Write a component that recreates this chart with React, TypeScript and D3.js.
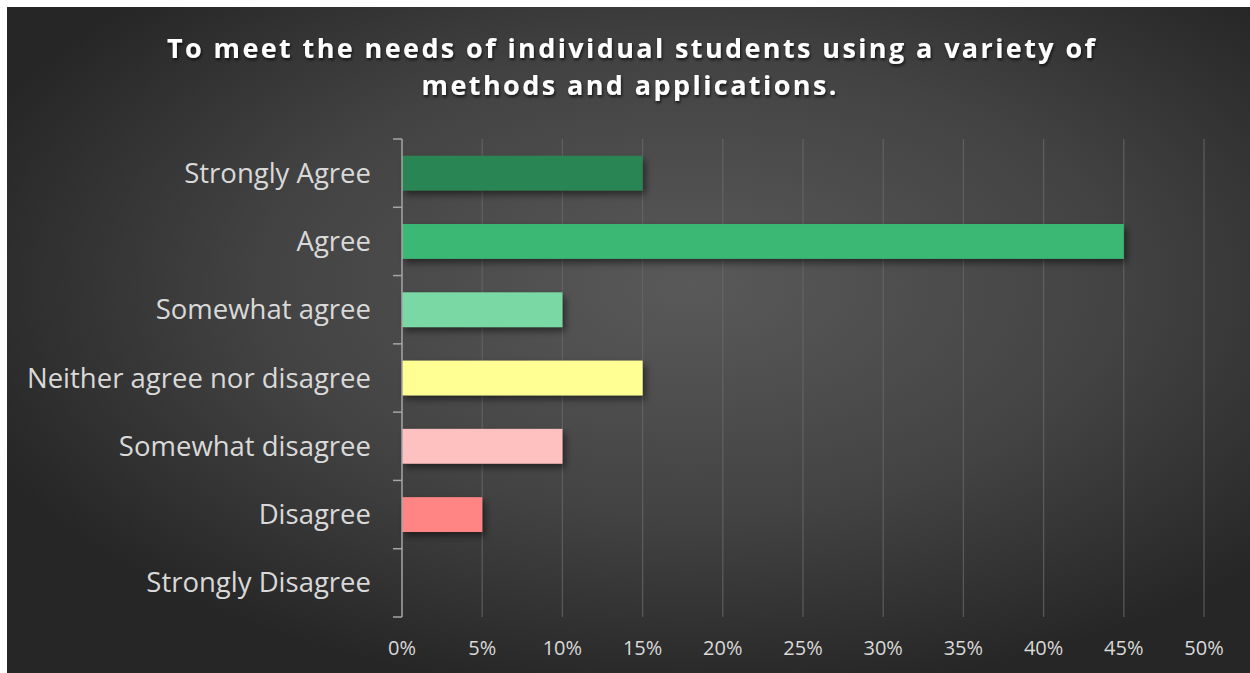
import React from "react";
import * as d3 from "d3";

const categories = [
  "Strongly Agree",
  "Agree",
  "Somewhat agree",
  "Neither agree nor disagree",
  "Somewhat disagree",
  "Disagree",
  "Strongly Disagree",
];
const values = [0.15, 0.45, 0.1, 0.15, 0.1, 0.05, 0];
const barColors = ["#2a8555", "#3bb873", "#7ad8a4", "#ffff93", "#ffc0c0", "#ff8585", "#888888"];
const xTicks = [0, 0.05, 0.1, 0.15, 0.2, 0.25, 0.3, 0.35, 0.4, 0.45, 0.5];
const titleLines = [
  "To meet the needs of individual students using a variety of",
  "methods and applications.",
];

const W = 1243;
const H = 666;
const OX = 7;
const OY = 7;

export default function App() {
  const x = d3.scaleLinear().domain([0, 0.5]).range([402 - OX, 1204 - OX]);
  const y = d3
    .scaleBand<string>()
    .domain(categories)
    .range([139 - OY, 617 - OY])
    .paddingInner(0.49)
    .paddingOuter(0.245);
  const bandStep = y.step();
  const y0 = 139 - OY;
  const fmt = d3.format(".0%");
  const font = "'Open Sans', 'DejaVu Sans', sans-serif";

  return (
    <svg
      width={W}
      height={H}
      style={{ position: "absolute", left: OX, top: OY, display: "block" }}
    >
      <defs>
        <radialGradient id="bg" cx="0.55" cy="0.42" r="0.62" fx="0.55" fy="0.42">
          <stop offset="0" stopColor="#595959" />
          <stop offset="0.55" stopColor="#434343" />
          <stop offset="1" stopColor="#262626" />
        </radialGradient>
        <filter id="shadow" x="-10%" y="-30%" width="130%" height="190%">
          <feDropShadow dx="3" dy="4" stdDeviation="3.5" floodColor="#000" floodOpacity="0.5" />
        </filter>
        <filter id="tshadow" x="-5%" y="-30%" width="110%" height="170%">
          <feDropShadow dx="1" dy="2" stdDeviation="1.5" floodColor="#000" floodOpacity="0.7" />
        </filter>
      </defs>
      <rect x={0} y={0} width={W} height={H} fill="url(#bg)" />

      {/* title */}
      <g filter="url(#tshadow)" fill="#ffffff" fontFamily={font} fontWeight="bold" fontSize={27}>
        <text x={631 - OX} y={58 - OY} textAnchor="middle" textLength={928} lengthAdjust="spacing">
          {titleLines[0]}
        </text>
        <text x={629 - OX} y={95 - OY} textAnchor="middle" textLength={415} lengthAdjust="spacing">
          {titleLines[1]}
        </text>
      </g>

      {/* gridlines */}
      {xTicks.slice(1).map((t) => (
        <line
          key={t}
          x1={x(t)}
          x2={x(t)}
          y1={139 - OY}
          y2={617 - OY}
          stroke="#6a6a6a"
          strokeOpacity={0.7}
          strokeWidth={1.3}
        />
      ))}

      {/* bars */}
      {categories.map((c, i) =>
        values[i] > 0 ? (
          <rect
            key={c}
            x={x(0)}
            y={y(c)!}
            width={x(values[i]) - x(0)}
            height={y.bandwidth()}
            fill={barColors[i]}
            filter="url(#shadow)"
          />
        ) : null
      )}

      {/* y axis */}
      <line x1={x(0)} x2={x(0)} y1={y0} y2={617 - OY} stroke="#a6a6a6" strokeWidth={1.5} />
      {d3.range(categories.length + 1).map((i) => (
        <line
          key={i}
          x1={x(0) - 9}
          x2={x(0)}
          y1={y0 + i * bandStep}
          y2={y0 + i * bandStep}
          stroke="#a6a6a6"
          strokeWidth={1.5}
        />
      ))}

      {/* category labels */}
      {categories.map((c) => (
        <text
          key={c}
          x={371 - OX}
          y={y(c)! + y.bandwidth() / 2 + 9.5}
          textAnchor="end"
          fill="#d9d9d9"
          fontFamily={font}
          fontSize={27.5}
        >
          {c}
        </text>
      ))}

      {/* x tick labels */}
      {xTicks.map((t) => (
        <text
          key={t}
          x={x(t)}
          y={655 - OY}
          textAnchor="middle"
          fill="#d9d9d9"
          fontFamily={font}
          fontSize={20}
        >
          {fmt(t)}
        </text>
      ))}
    </svg>
  );
}
